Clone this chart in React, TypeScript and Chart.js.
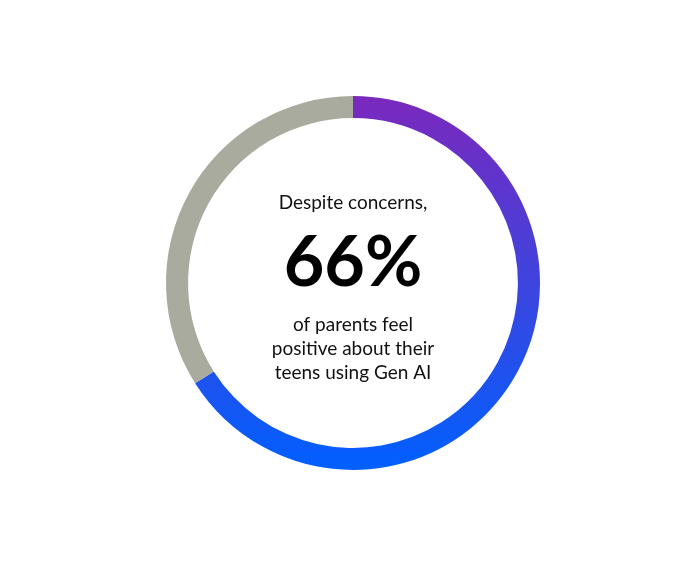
import React, { useEffect, useRef } from "react";
import { Chart, registerables } from "chart.js";

Chart.register(...registerables);

const categories = ["Positive", "Other"];
const values = [66, 34];
const headline = "66%";
const topLine = "Despite concerns,";
const bottomLines = ["of parents feel", "positive about their", "teens using Gen AI"];
const grayColor = "#AAAB9F";
const gradStart = "#7B28BD";
const gradEnd = "#0060FF";

export default function App() {
  const ref = useRef<HTMLCanvasElement | null>(null);
  useEffect(() => {
    if (!ref.current) return;
    const centerText = {
      id: "centerText",
      afterDraw(chart: any) {
        const meta = chart.getDatasetMeta(0);
        const arc = meta.data[0];
        if (!arc) return;
        const cx = arc.x;
        const cy = arc.y;
        const c = chart.ctx;
        c.save();
        c.fillStyle = "#111111";
        c.textAlign = "center";
        c.textBaseline = "middle";
        c.font = "400 19px Lato, 'Open Sans', sans-serif";
        c.fillText(topLine, cx, cy - 80);
        c.font = "700 70px Lato, 'Open Sans', sans-serif";
        c.fillStyle = "#000000";
        c.fillText(headline, cx, cy - 20);
        c.font = "400 19px Lato, 'Open Sans', sans-serif";
        c.fillStyle = "#111111";
        bottomLines.forEach((l, i) => c.fillText(l, cx, cy + 42 + i * 24));
        c.restore();
      },
    };
    const chart = new Chart(ref.current, {
      type: "doughnut",
      data: {
        labels: categories,
        datasets: [
          {
            data: values,
            borderWidth: 0,
            radius: 187,
            backgroundColor: (ctx: any) => {
              const chartObj = ctx.chart;
              const ca = chartObj.chartArea;
              if (!ca) return gradStart;
              if (ctx.dataIndex === 1) return grayColor;
              const cy = (ca.top + ca.bottom) / 2;
              const g = chartObj.ctx.createLinearGradient(0, cy - 187, 0, cy + 187);
              g.addColorStop(0, gradStart);
              g.addColorStop(1, gradEnd);
              return g;
            },
          } as any,
        ],
      },
      options: {
        responsive: false,
        animation: false,
        cutout: "88.2%",
        layout: { padding: { left: 6, top: 3, right: 0, bottom: 0 } },
        plugins: { legend: { display: false }, tooltip: { enabled: false } },
      } as any,
      plugins: [centerText],
    });
    return () => chart.destroy();
  }, []);
  return (
    <div style={{ position: "fixed", left: 0, top: 0, width: 700, height: 563, background: "#fff" }}>
      <canvas ref={ref} width={700} height={563} />
    </div>
  );
}
